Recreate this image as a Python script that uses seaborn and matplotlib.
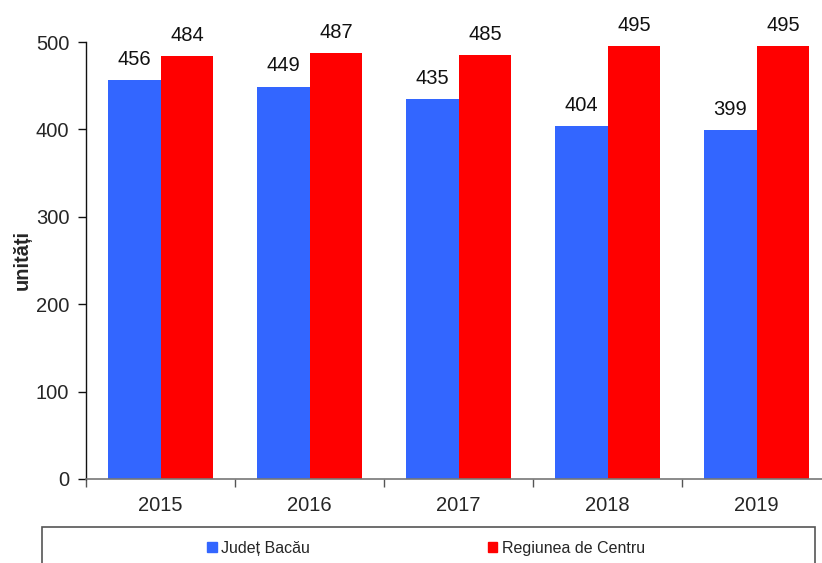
#!/usr/bin/env python3

import matplotlib
matplotlib.use("Agg")
import matplotlib.pyplot as plt
from matplotlib.patches import Rectangle
import seaborn as sns
import pandas as pd

years = ["2015", "2016", "2017", "2018", "2019"]
bacau = [456, 449, 435, 404, 399]
centru = [484, 487, 485, 495, 495]
series_names = ["Județ Bacău", "Regiunea de Centru"]
colors = ["#3366FF", "#FF0000"]

sns.set_style("white")
plt.rcParams["font.family"] = ["Liberation Sans", "DejaVu Sans"]

df = pd.DataFrame({
    "an": years * 2,
    "valoare": bacau + centru,
    "zona": [series_names[0]] * len(years) + [series_names[1]] * len(years),
})

fig = plt.figure(figsize=(8.22, 5.63), dpi=100)
ax = fig.add_axes([86 / 822, 84 / 563, 745 / 822, 437 / 563])

sns.barplot(
    data=df, x="an", y="valoare", hue="zona", palette=colors,
    width=0.71, saturation=1, errorbar=None, legend=False, ax=ax,
    linewidth=0,
)

for container in ax.containers:
    ax.bar_label(container, fontsize=14.5, padding=8, color="#111111")

ax.set_xlim(-0.5, 4.5)
ax.set_ylim(0, 500)
ax.set_yticks([0, 100, 200, 300, 400, 500])
ax.set_xticks(range(len(years)))
ax.set_xticklabels(years)
ax.set_xticks([i - 0.5 for i in range(len(years) + 1)], minor=True)
ax.tick_params(axis="x", which="major", length=0, labelsize=14.5, pad=12)
ax.tick_params(axis="x", which="minor", length=6, width=1, color="#555555",
               direction="out", bottom=True)
ax.tick_params(axis="y", length=6, width=1, color="#111111", direction="out",
               labelsize=14.5, pad=6, left=True)
ax.set_xlabel("")
ax.set_ylabel("unități", fontsize=14.5, fontweight="bold", labelpad=3)

for side in ["top", "right"]:
    ax.spines[side].set_visible(False)
ax.spines["left"].set_color("#111111")
ax.spines["bottom"].set_color("#777777")
ax.spines["left"].set_linewidth(1)
ax.spines["bottom"].set_linewidth(1.2)

# legend box
fig.patches.append(Rectangle((42 / 822, -0.05), 773 / 822, (563 - 527) / 563 + 0.05,
                             transform=fig.transFigure, fill=False,
                             edgecolor="#555555", linewidth=1.2))
handles = [Rectangle((0, 0), 1, 1, color=c) for c in colors]
fig.legend(handles, series_names, loc="center",
           bbox_to_anchor=(426 / 822, 1 - 548 / 563), ncol=2, frameon=False,
           fontsize=11.5, handlelength=0.6, handleheight=0.6,
           handletextpad=0.3, columnspacing=11.1)

fig.savefig("out.png", dpi=100)
